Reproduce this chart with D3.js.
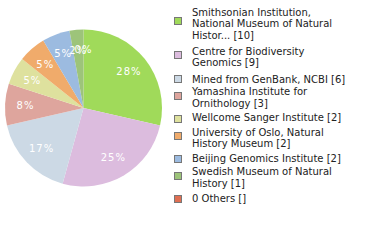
<!DOCTYPE html>
<html><head><meta charset="utf-8">
<script src="https://cdn.jsdelivr.net/npm/d3@7"></script>
<style>body{margin:0;background:#fff}svg{display:block}</style>
</head><body>
<script>
const labels = [
  ["Smithsonian Institution,", "National Museum of Natural", "Histor... [10]"],
  ["Centre for Biodiversity", "Genomics [9]"],
  ["Mined from GenBank, NCBI [6]"],
  ["Yamashina Institute for", "Ornithology [3]"],
  ["Wellcome Sanger Institute [2]"],
  ["University of Oslo, Natural", "History Museum [2]"],
  ["Beijing Genomics Institute [2]"],
  ["Swedish Museum of Natural", "History [1]"],
  ["0 Others []"]
];
const values = [10, 9, 6, 3, 2, 2, 2, 1, 0];
const colors = ["#a0da5a", "#dcbcde", "#ccd9e5", "#dea59d", "#dee19e", "#f0ab6b", "#9cbbe0", "#9dc47a", "#df6f52"];

const W = 380, H = 240;
const svg = d3.select("body").append("svg").attr("width", W).attr("height", H);
const cx = 83.5, cy = 108, R = 78.5;
const total = d3.sum(values);
const pie = d3.pie().sort(null).value(d => d)(values);
const arc = d3.arc().innerRadius(0).outerRadius(R);
const labelArc = d3.arc().innerRadius(R * 0.74).outerRadius(R * 0.74);
const g = svg.append("g").attr("transform", `translate(${cx},${cy})`);
g.selectAll("path").data(pie).join("path")
  .attr("d", arc).attr("fill", (d, i) => colors[i]);
g.selectAll("text").data(pie).join("text")
  .attr("transform", d => `translate(${labelArc.centroid(d)})`)
  .attr("text-anchor", "middle").attr("dy", "0.35em")
  .attr("fill", "#fff").attr("font-family", "DejaVu Sans").attr("font-size", 10)
  .attr("letter-spacing", 1)
  .text(d => Math.floor(d.value / total * 100) + "%");

const squareY = [17, 51, 75, 92, 115, 132, 155, 172, 195];
const textLineY = [[12, 23.5, 35], [51, 62], [79], [91.5, 103], [117], [132, 143.5], [158], [171.5, 183], [198]];
const lg = svg.append("g");
labels.forEach((ls, i) => {
  lg.append("rect").attr("x", 174.5).attr("y", squareY[i] + 0.5).attr("width", 7).attr("height", 7)
    .attr("fill", colors[i]).attr("stroke", "#777").attr("stroke-width", 1);
  ls.forEach((t, j) => {
    lg.append("text").attr("x", 192).attr("y", textLineY[i][j]).attr("dy", "0.35em")
      .attr("font-family", "DejaVu Sans").attr("font-size", 10).attr("fill", "#222").text(t);
  });
});
</script>
</body></html>
